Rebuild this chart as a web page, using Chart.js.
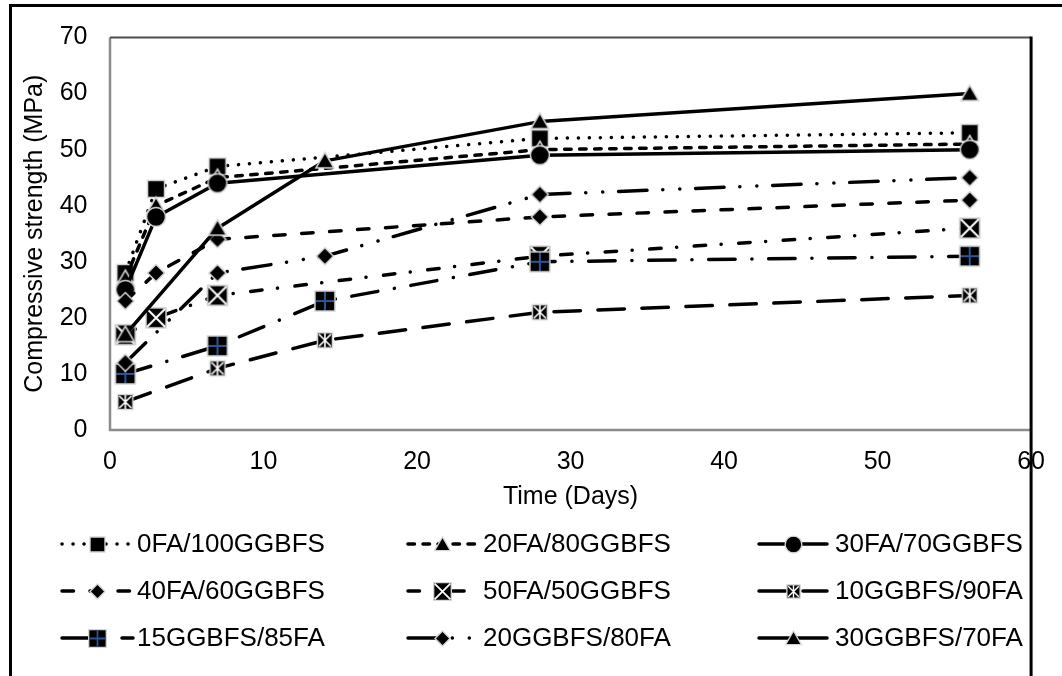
<!DOCTYPE html>
<html>
<head>
<meta charset="utf-8">
<script src="https://cdn.jsdelivr.net/npm/chart.js@4/dist/chart.umd.min.js"></script>
<style>
  html, body { margin: 0; padding: 0; background: #fff; }
  canvas { display: block; }
</style>
</head>
<body>
<canvas id="chart" width="1062" height="676"></canvas>
<script>
// Curing ages (days) for the two mix families
const daysFA = [1, 3, 7, 28, 56];
const daysGG = [1, 7, 14, 28, 56];

// Series labels
const seriesNames = [
  '0FA/100GGBFS', '20FA/80GGBFS', '30FA/70GGBFS',
  '40FA/60GGBFS', '50FA/50GGBFS', '10GGBFS/90FA',
  '15GGBFS/85FA', '20GGBFS/80FA', '30GGBFS/70FA'
];

// Compressive strength (MPa)
const fa0 = [28, 43, 47, 52, 53];
const fa20 = [27, 40, 45, 50, 51];
const fa30 = [25, 38, 44, 49, 50];
const fa40 = [23, 28, 34, 38, 41];
const fa50 = [17, 20, 24, 31, 36];
const gg10 = [5, 11, 16, 21, 24];
const gg15 = [10, 15, 23, 30, 31];
const gg20 = [12, 28, 31, 42, 45];
const gg30 = [17, 36, 48, 55, 60];

// Axis ticks
const xTicks = [0, 10, 20, 30, 40, 50, 60];
const yTicks = [0, 10, 20, 30, 40, 50, 60, 70];

const FONT = "'Liberation Sans', Arial, sans-serif";

// Marker glyphs: black fill with a pale outline
function marker(kind, k) {
  k = k || 1;
  const S = Math.ceil(26 * k);
  const c = document.createElement('canvas');
  c.width = c.height = S;
  const g = c.getContext('2d');
  g.translate(S / 2, S / 2);
  g.scale(k, k);
  g.fillStyle = '#000';
  g.strokeStyle = '#d6d6d6';
  g.lineWidth = 1.5;
  g.beginPath();
  switch (kind) {
    case 'square': g.rect(-8.5, -8.5, 17, 17); break;
    case 'triangle': g.moveTo(0, -8.5); g.lineTo(9, 7); g.lineTo(-9, 7); g.closePath(); break;
    case 'circle': g.arc(0, 0, 9.5, 0, Math.PI * 2); break;
    case 'diamond': g.moveTo(0, -8.5); g.lineTo(8.5, 0); g.lineTo(0, 8.5); g.lineTo(-8.5, 0); g.closePath(); break;
    case 'xsquare':
    case 'plussquare': g.rect(-10, -10, 20, 20); break;
    case 'starsquare': g.rect(-7.5, -7.5, 15, 15); break;
  }
  g.fill();
  g.stroke();
  g.lineCap = 'butt';
  if (kind === 'xsquare') {
    g.strokeStyle = '#fff'; g.lineWidth = 2;
    g.beginPath();
    g.moveTo(-9, -9); g.lineTo(9, 9);
    g.moveTo(9, -9); g.lineTo(-9, 9);
    g.stroke();
  } else if (kind === 'plussquare') {
    g.strokeStyle = '#2f5597'; g.lineWidth = 2;
    g.beginPath();
    g.moveTo(0, -9); g.lineTo(0, 9);
    g.moveTo(-9, 0); g.lineTo(9, 0);
    g.stroke();
  } else if (kind === 'starsquare') {
    g.strokeStyle = '#fff'; g.lineWidth = 1.6;
    g.beginPath();
    g.moveTo(-6, -6); g.lineTo(6, 6);
    g.moveTo(6, -6); g.lineTo(-6, 6);
    g.moveTo(0, -7); g.lineTo(0, 7);
    g.stroke();
  }
  return c;
}

const markerKinds = ['square', 'triangle', 'circle', 'diamond', 'xsquare', 'starsquare', 'plussquare', 'diamond', 'triangle'];
const dashes = [
  [0.1, 10.9],                          // dotted
  [6.5, 8.5],                           // short dash
  [],                                   // solid
  [11.5, 16.5],                         // dash
  [11.5, 15.5, 0.1, 17.5],              // dash-dot
  [26.5, 17.5],                         // long dash
  [26.5, 16.75, 0.1, 16.65],            // long dash-dot
  [28.5, 15.75, 0.1, 16.9, 0.1, 15.75], // long dash-dot-dot
  []                                    // solid
];
const values = [fa0, fa20, fa30, fa40, fa50, gg10, gg15, gg20, gg30];
const xsFor = [daysFA, daysFA, daysFA, daysFA, daysFA, daysGG, daysGG, daysGG, daysGG];

const datasets = seriesNames.map((name, i) => ({
  label: name,
  data: values[i].map((v, j) => ({ x: xsFor[i][j], y: v })),
  borderColor: '#000',
  backgroundColor: '#000',
  borderWidth: 3.5,
  borderDash: dashes[i],
  borderCapStyle: 'round',
  borderJoinStyle: 'round',
  pointStyle: marker(markerKinds[i], 1),
  pointRadius: 10,
  pointHoverRadius: 10,
  tension: 0,
  fill: false,
  order: -i
}));

// Plot frame and surrounding figure border
const framePlugin = {
  id: 'frame',
  beforeDraw(chart) {
    const ctx = chart.ctx;
    ctx.save();
    ctx.fillStyle = '#fff';
    ctx.fillRect(0, 0, chart.width, chart.height);
    ctx.restore();
  },
  beforeDatasetsDraw(chart) {
    const { ctx, chartArea: a } = chart;
    ctx.save();
    ctx.lineCap = 'butt';
    ctx.strokeStyle = '#8c8c8c';
    ctx.lineWidth = 2.5;
    ctx.beginPath();
    ctx.moveTo(a.left, a.top);
    ctx.lineTo(a.left, a.bottom);
    ctx.lineTo(a.right, a.bottom);
    ctx.stroke();
    ctx.strokeStyle = '#4d4d4d';
    ctx.lineWidth = 2;
    ctx.beginPath();
    ctx.moveTo(a.left, a.top);
    ctx.lineTo(a.right, a.top);
    ctx.stroke();
    // right edge runs down to the bottom of the figure
    ctx.strokeStyle = '#000';
    ctx.lineWidth = 3;
    ctx.beginPath();
    ctx.moveTo(a.right, a.top - 1);
    ctx.lineTo(a.right, chart.height);
    ctx.stroke();
    // outer figure border: top and left
    ctx.beginPath();
    ctx.moveTo(chart.width, 5.5);
    ctx.lineTo(10.5, 5.5);
    ctx.lineTo(10.5, chart.height);
    ctx.stroke();
    ctx.restore();
  }
};

// Three-column legend below the axis title
const legendPlugin = {
  id: 'gridLegend',
  afterDraw(chart) {
    const ctx = chart.ctx;
    const cols = [
      { x0: 62, x1: 133, mx: 97, tx: 137 },
      { x0: 408, x1: 477, mx: 442, tx: 483 },
      { x0: 759, x1: 827, mx: 793, tx: 835 }
    ];
    const rows = [544, 591, 638];
    ctx.save();
    chart.data.datasets.forEach((ds, i) => {
      const c = cols[i % 3];
      const y = rows[Math.floor(i / 3)];
      ctx.strokeStyle = '#000';
      ctx.lineWidth = ds.borderWidth;
      ctx.lineCap = 'round';
      ctx.setLineDash(ds.borderDash);
      ctx.beginPath();
      ctx.moveTo(c.x0, y);
      ctx.lineTo(c.x1, y);
      ctx.stroke();
      ctx.setLineDash([]);
      const img = marker(markerKinds[i], 0.88);
      ctx.drawImage(img, Math.round(c.mx - img.width / 2), Math.round(y - img.height / 2));
      ctx.fillStyle = '#000';
      ctx.font = '26px ' + FONT;
      ctx.textAlign = 'left';
      ctx.textBaseline = 'middle';
      ctx.fillText(ds.label, c.tx, y + 1);
    });
    ctx.restore();
  }
};

const tickFont = { family: FONT, size: 25 };
const titleFont = { family: FONT, size: 25 };

new Chart(document.getElementById('chart'), {
  type: 'line',
  data: { datasets },
  plugins: [framePlugin, legendPlugin],
  options: {
    responsive: false,
    animation: false,
    devicePixelRatio: 1,
    layout: { padding: { top: 24, right: 27, bottom: 162, left: 0 } },
    plugins: { legend: { display: false }, tooltip: { enabled: false } },
    scales: {
      x: {
        type: 'linear',
        min: xTicks[0],
        max: xTicks[xTicks.length - 1],
        afterBuildTicks(s) { s.ticks = xTicks.map(v => ({ value: v })); },
        ticks: { color: '#000', font: tickFont, padding: 17, maxRotation: 0 },
        grid: { display: false, drawTicks: false },
        border: { display: false },
        title: { display: true, text: 'Time (Days)', color: '#000', font: titleFont, padding: { top: 0, bottom: 2 } },
        afterFit(s) { s.height = 84; }
      },
      y: {
        type: 'linear',
        min: yTicks[0],
        max: yTicks[yTicks.length - 1],
        afterBuildTicks(s) { s.ticks = yTicks.map(v => ({ value: v })); },
        ticks: { color: '#000', font: tickFont, padding: 22.5 },
        grid: { display: false, drawTicks: false },
        border: { display: false },
        title: { display: true, text: 'Compressive strength (MPa)', color: '#000', font: titleFont, padding: { top: 20.6, bottom: 0 } },
        afterFit(s) { s.width = 110; }
      }
    }
  }
});
</script>
</body>
</html>
